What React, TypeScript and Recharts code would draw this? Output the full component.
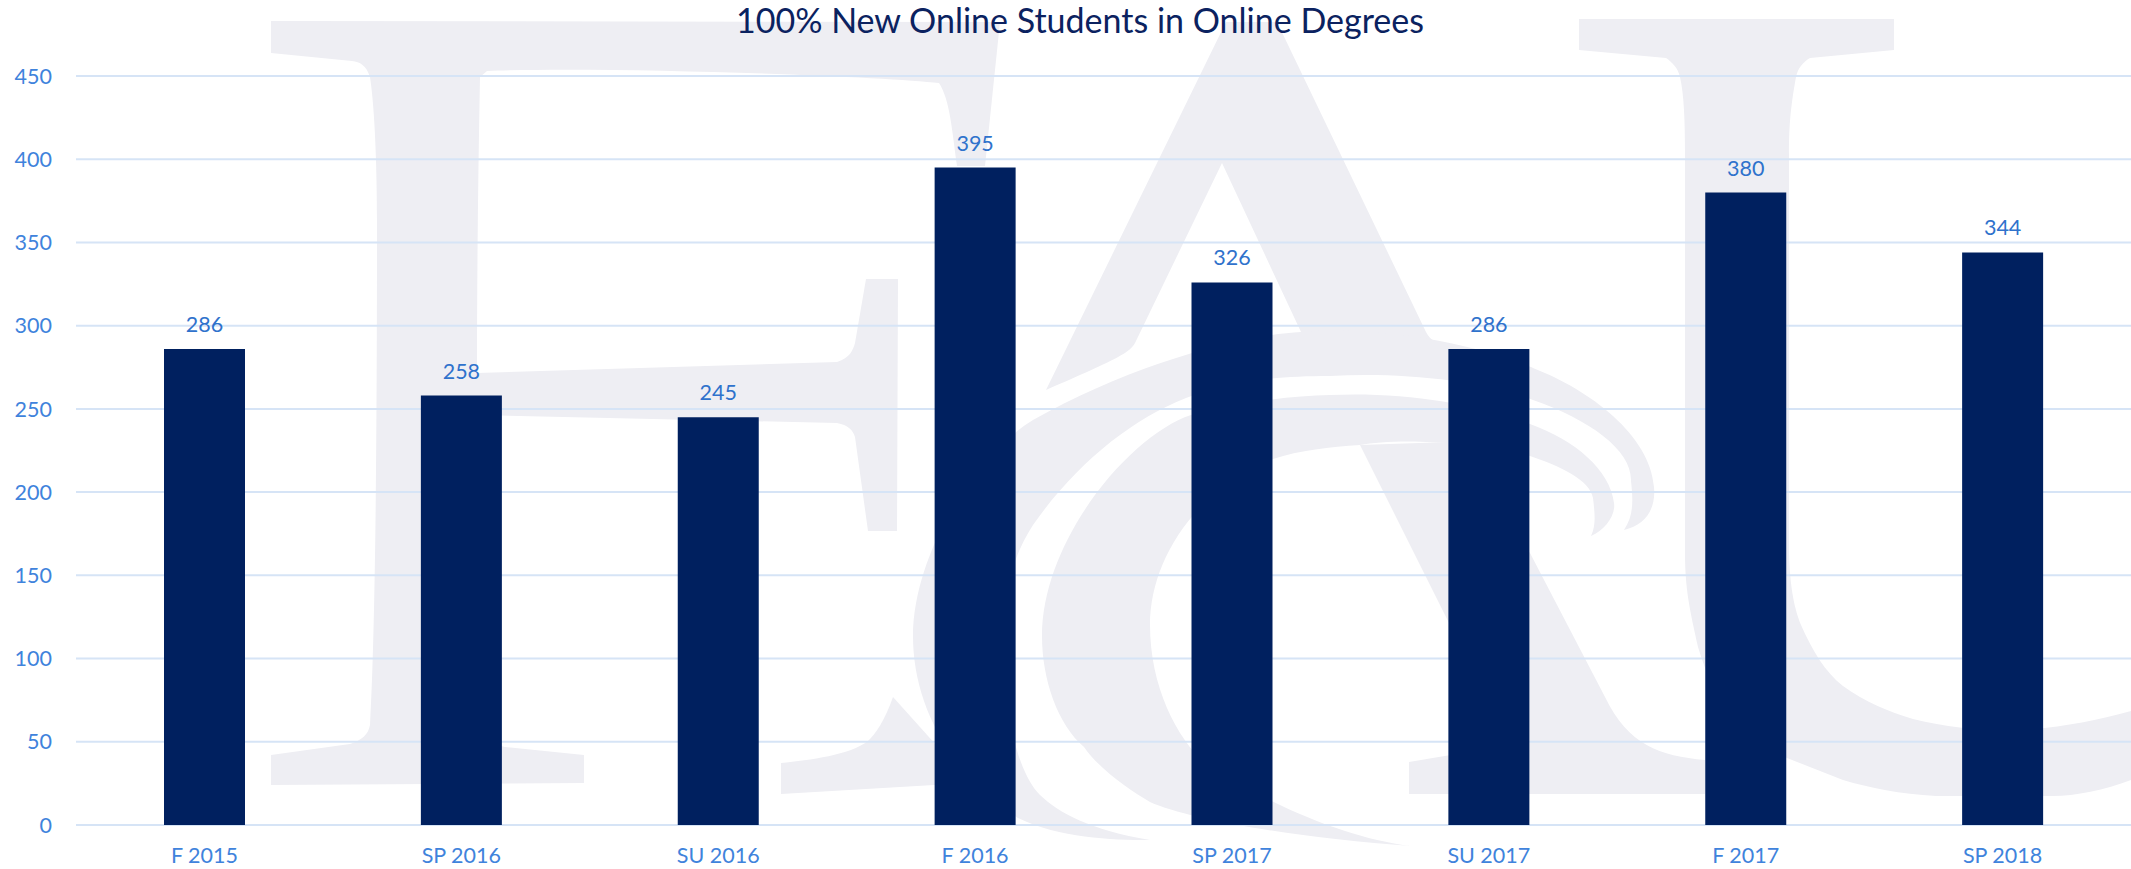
import { BarChart, Bar, XAxis, YAxis, CartesianGrid, LabelList } from "recharts"

const terms = ["F 2015", "SP 2016", "SU 2016", "F 2016", "SP 2017", "SU 2017", "F 2017", "SP 2018"]
const students = [286, 258, 245, 395, 326, 286, 380, 344]
const yTicks = [0, 50, 100, 150, 200, 250, 300, 350, 400, 450]

const chartData = terms.map((term, i) => ({ term, students: students[i] }))

const FONT = "Lato, sans-serif"

// background logo, only decoration behind the plot
const logoPaths = [
  // F
  "M271 21 L1000 22 L985 166 L957 166 C952 130 950 100 939 83 C880 76 600 66 487 71 L480 77 C478 180 477 280 477 373 L837 362 C850 358 853 350 855 343 L866 279 L898 279 L897 531 L868 531 L855 437 C853 430 848 425 837 423 L477 415 C477 520 478 620 480 725 C482 740 495 745 505 747 L584 755 L584 783 L271 785 L271 755 L350 744 C362 740 368 735 370 725 C376 620 377 400 377 221 C377 170 375 110 370 77 C366 65 360 62 352 61 L271 53 Z",
  // A, upper strokes
  "M1226 22 L1277 22 L1426 332 C1432 343 1440 346 1480 352 L1533 368 L1301 345 L1301 332 L1222 163 L1135 343 C1130 352 1120 358 1046 390 Z",
  // outer swoosh
  "M1624 530 C1645 525 1656 510 1654 487 C1650 435 1590 390 1533 368 C1480 345 1380 325 1301 332 C1240 335 1130 365 1033 420 C975 455 913 555 913 636 C913 700 945 770 1018 818 C1060 838 1110 840 1150 840 C1090 830 1059 813 1040 795 C1015 770 1002 700 1002 636 C1002 590 1015 553 1033 525 C1075 465 1130 420 1186 398 C1230 382 1270 376 1330 376 C1400 372 1480 380 1533 400 C1590 420 1632 450 1631 481 C1633 500 1634 515 1624 530 Z",
  // inner swoosh
  "M1591 536 C1605 530 1616 515 1614 503 C1610 470 1575 440 1530 424 C1470 402 1400 392 1330 395 C1290 396 1240 402 1191 415 C1130 435 1042 540 1042 636 C1042 680 1058 725 1084 747 C1100 770 1130 790 1150 802 C1190 820 1300 838 1411 846 C1350 838 1288 813 1212 769 C1180 745 1150 690 1150 625 C1150 560 1195 490 1273 459 C1300 450 1330 447 1360 445 C1390 440 1449 438 1530 456 C1560 466 1590 480 1593 498 C1595 515 1596 525 1591 536 Z",
  // A, right leg and foot
  "M1360 445 L1510 745 L1409 762 L1409 794 L1705 794 L1705 760 C1660 756 1628 745 1605 697 L1530 553 L1449 442 Z",
  // A, left foot
  "M893 697 C885 720 875 735 868 741 C850 755 810 760 781 763 L781 794 L934 785 L972 785 Z",
  // U
  "M1579 19 L1894 19 L1894 50 L1810 58 C1803 62 1798 68 1796 77 C1790 110 1789 130 1789 155 L1789 553 C1790 590 1795 610 1801 625 C1812 650 1825 672 1843 686 C1865 702 1890 712 1913 719 C1945 727 1975 730 2006 730 C2050 730 2090 722 2131 711 L2131 780 C2105 790 2075 796 2053 796 L1936 796 C1900 794 1870 788 1843 780 L1787 758 C1765 745 1750 733 1736 719 C1715 697 1705 670 1698 647 C1690 610 1685 590 1685 553 L1685 155 C1685 120 1684 95 1680 77 C1678 68 1672 62 1666 58 L1579 50 Z",
]

export default function App() {
  return (
    <div style={{ position: "absolute", left: 0, top: 0, width: 2131, height: 869, background: "#fff", overflow: "hidden" }}>
      <svg width={2131} height={869} style={{ position: "absolute", left: 0, top: 0 }}>
        {logoPaths.map((d, i) => (
          <path key={i} d={d} fill="#eeeef3" />
        ))}
      </svg>
      <div style={{ position: "absolute", left: 0, top: 0 }}>
        <BarChart
          width={2131}
          height={869}
          data={chartData}
          margin={{ top: 76, right: 0, bottom: 0, left: 0 }}
        >
          <CartesianGrid vertical={false} stroke="#d6e4f6" strokeWidth={2} />
          <XAxis
            dataKey="term"
            axisLine={false}
            tickLine={false}
            tickSize={0}
            tickMargin={23}
            height={44}
            interval={0}
            tick={{ fill: "#3f83dc", fontSize: 21.5, fontFamily: FONT }}
          />
          <YAxis
            domain={[0, 450]}
            ticks={yTicks}
            axisLine={false}
            tickLine={false}
            tickSize={0}
            tickMargin={24}
            width={76}
            tick={{ fill: "#3f83dc", fontSize: 21.5, fontFamily: FONT }}
          />
          <Bar dataKey="students" fill="#00205f" barSize={81} isAnimationActive={false}>
            <LabelList
              dataKey="students"
              position="top"
              offset={17}
              fill="#2f72cc"
              fontSize={21.5}
              fontFamily={FONT}
            />
          </Bar>
          <text x={1080} y={33} textAnchor="middle" fill="#0b2260" fontSize={34} fontFamily={FONT}>
            100% New Online Students in Online Degrees
          </text>
        </BarChart>
      </div>
    </div>
  )
}
